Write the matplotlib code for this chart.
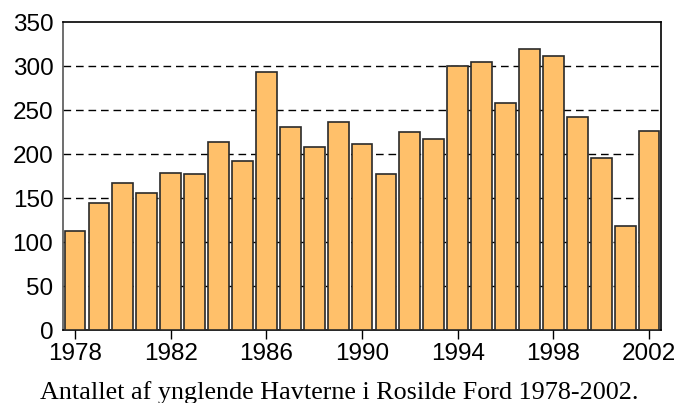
import matplotlib
matplotlib.use('Agg')
import matplotlib.pyplot as plt

# -----------data---------------
years = list(range(1978, 2003))
counts = [113, 144, 167, 156, 179, 177, 214, 192, 293, 231, 208, 237, 212,
          177, 225, 217, 300, 305, 258, 320, 312, 242, 196, 118, 226]
xtick_years = [1978, 1982, 1986, 1990, 1994, 1998, 2002]
yticks = [0, 50, 100, 150, 200, 250, 300, 350]
caption = 'Antallet af ynglende Havterne i Rosilde Ford 1978-2002.'

# -----------figure---------------
fig = plt.figure(figsize=(6.78, 4.03), dpi=100)
ax = fig.add_axes([0.093, 0.181, 0.882, 0.764])

ax.bar(years, counts, width=0.87, color='#FFC06A', edgecolor='#2a2a2a',
       linewidth=1.2, zorder=3)

# dashed grid behind bars
for y in yticks[1:-1]:
    ax.axhline(y, color='black', linewidth=1.0, linestyle=(0, (5.5, 3.5)), zorder=1)

ax.set_xlim(1977.5, 2002.5)
ax.set_ylim(0, 350)
ax.set_xticks(xtick_years)
ax.set_yticks(yticks)

ax.tick_params(axis='x', direction='out', length=6.5, width=1, pad=3,
               labelsize=17.5)
ax.tick_params(axis='y', length=0, pad=7, labelsize=17.5)
for lab in ax.get_xticklabels() + ax.get_yticklabels():
    lab.set_family(['Liberation Sans', 'DejaVu Sans'])

for side in ['left', 'right', 'top', 'bottom']:
    ax.spines[side].set_linewidth(1.2)
    ax.spines[side].set_color('black')
ax.spines['left'].set_color('#555555')

fig.text(0.5, 0.009, caption, ha='center', va='baseline', fontsize=18.8,
         family=['Liberation Serif', 'DejaVu Serif'])

fig.savefig('out.png', dpi=100)
